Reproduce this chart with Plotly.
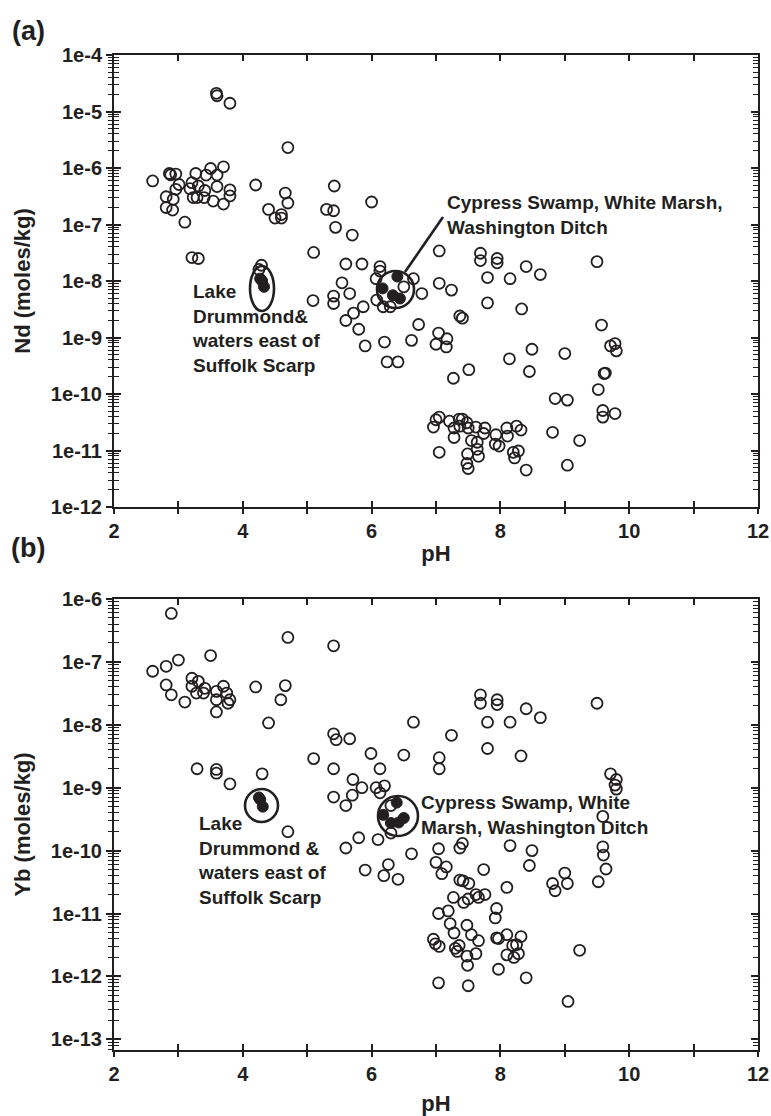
import plotly.graph_objects as go

# ---------------- data: panel (a) Nd ----------------
ph_a_open = [3.59, 3.60, 3.80, 4.70, 2.60, 2.86, 2.88, 2.96, 3.01, 2.96, 2.81, 2.92, 2.81, 2.91, 3.10,
             3.21, 3.27, 3.18, 3.31, 3.41, 3.23, 3.29, 3.40, 3.43, 3.50, 3.60, 3.60, 3.54, 3.70, 3.70,
             3.80, 3.80, 4.20, 4.40, 4.50, 4.60, 4.60, 4.66, 4.70, 3.21, 3.31, 5.10, 5.30, 5.41, 5.42,
             5.44, 5.70, 6.00, 5.60, 5.85, 6.13, 6.13, 6.07, 5.54, 5.66, 5.41, 5.41, 5.09, 5.87, 5.72,
             5.60, 5.80, 6.08, 6.18, 6.29, 6.50, 6.65, 6.78, 6.73, 5.90, 6.20, 6.24, 6.41, 6.62,
             7.05, 7.69, 7.69, 7.95, 7.95, 8.40, 8.62, 7.80, 8.15, 9.50, 7.05, 7.24, 7.80, 8.33, 7.37,
             7.41, 9.57, 7.04, 7.17, 7.00, 7.16, 8.14, 8.49, 8.45, 9.00, 9.78, 9.71, 9.80, 7.51, 7.27,
             9.61, 9.63, 9.52, 8.85, 9.04, 9.59, 9.59, 9.78, 8.81, 9.23, 9.04, 8.40,
             6.96, 7.00, 7.05, 7.21, 7.28, 7.28, 7.36, 7.41, 7.37, 7.48, 7.50, 7.62, 7.55, 7.64, 7.76,
             7.74, 7.93, 7.92, 7.98, 8.10, 8.11, 8.25, 8.32, 8.20, 8.28, 8.22, 7.05, 7.49, 7.64, 7.66,
             7.48, 7.50, 4.29, 4.25]
nd_open = [2.1e-5, 1.9e-5, 1.4e-5, 2.3e-6, 5.9e-7, 8.0e-7, 7.6e-7, 7.8e-7, 5.1e-7, 4.2e-7, 3.1e-7, 2.8e-7, 2.0e-7, 1.8e-7, 1.1e-7,
           5.5e-7, 8.0e-7, 4.3e-7, 4.8e-7, 4.0e-7, 3.0e-7, 3.0e-7, 3.0e-7, 7.5e-7, 9.8e-7, 7.5e-7, 4.7e-7, 2.6e-7, 1.05e-6, 2.3e-7,
           4.1e-7, 3.2e-7, 5.0e-7, 1.85e-7, 1.3e-7, 1.5e-7, 1.3e-7, 3.6e-7, 2.4e-7, 2.6e-8, 2.5e-8, 3.2e-8, 1.85e-7, 1.75e-7, 4.8e-7,
           8.9e-8, 6.5e-8, 2.5e-7, 2.0e-8, 2.0e-8, 1.8e-8, 1.5e-8, 1.1e-8, 9.3e-9, 6.0e-9, 5.4e-9, 4.0e-9, 4.5e-9, 3.5e-9, 2.7e-9,
           2.0e-9, 1.4e-9, 4.6e-9, 3.5e-9, 3.5e-9, 7.9e-9, 1.1e-8, 6.0e-9, 1.7e-9, 7.1e-10, 8.3e-10, 3.7e-10, 3.7e-10, 8.9e-10,
           3.4e-8, 3.1e-8, 2.3e-8, 2.5e-8, 2.1e-8, 1.8e-8, 1.3e-8, 1.15e-8, 1.1e-8, 2.2e-8, 9.1e-9, 6.9e-9, 4.1e-9, 3.2e-9, 2.4e-9,
           2.2e-9, 1.66e-9, 1.2e-9, 9.5e-10, 7.6e-10, 6.8e-10, 4.2e-10, 6.2e-10, 2.5e-10, 5.2e-10, 7.8e-10, 7.1e-10, 5.8e-10, 2.7e-10, 1.9e-10,
           2.3e-10, 2.35e-10, 1.2e-10, 8.3e-11, 7.8e-11, 5.1e-11, 3.9e-11, 4.5e-11, 2.1e-11, 1.5e-11, 5.5e-12, 4.5e-12,
           2.6e-11, 3.5e-11, 3.9e-11, 3.3e-11, 2.5e-11, 1.7e-11, 3.6e-11, 3.6e-11, 2.7e-11, 3.1e-11, 2.5e-11, 2.6e-11, 1.5e-11, 1.4e-11, 2.5e-11,
           2.0e-11, 1.9e-11, 1.3e-11, 1.2e-11, 2.5e-11, 1.8e-11, 2.7e-11, 2.3e-11, 9.3e-12, 9.8e-12, 7.4e-12, 9.3e-12, 8.7e-12, 1.05e-11, 7.9e-12,
           5.9e-12, 4.8e-12, 1.9e-8, 1.6e-8]
ph_a_filled = [4.27, 4.33, 4.30, 6.17, 6.40, 6.44, 6.33]
nd_filled = [1.1e-8, 7.9e-9, 1.0e-8, 7.4e-9, 1.2e-8, 4.9e-9, 5.6e-9]

# ---------------- data: panel (b) Yb ----------------
ph_b_open = [2.89, 4.70, 5.41, 2.60, 2.81, 3.00, 3.50, 2.81, 2.89, 3.10, 3.21, 3.31, 3.21, 3.41, 3.28,
             3.39, 3.59, 3.70, 3.75, 3.59, 3.80, 3.77, 3.59, 4.20, 4.66, 4.59, 4.40, 6.65, 5.41, 5.45,
             5.66, 5.99, 6.50, 5.10, 5.41, 6.13, 3.29, 3.59, 3.59, 3.80, 4.30, 5.71, 5.85, 6.07, 6.20,
             6.13, 5.41, 5.70, 5.60, 6.30, 4.70, 5.80, 5.60, 6.10, 6.30, 6.62, 5.90, 6.26, 6.19,
             6.41, 7.69, 7.69, 7.95, 7.95, 8.40, 8.62, 7.80, 8.15, 9.50, 7.24, 7.05, 7.05, 7.80, 8.32,
             9.71, 9.80, 9.80, 9.78, 9.59, 9.59, 9.60, 9.64, 7.04, 7.37, 7.41, 8.15, 8.49, 7.00, 7.16,
             7.09, 7.74, 8.45, 9.00, 8.81, 8.85, 9.04, 9.52, 7.37, 7.42, 7.51, 8.10, 7.27, 7.43, 7.50,
             7.62, 7.66, 7.76, 7.19, 7.04, 7.94, 7.92, 7.22, 7.28, 7.48, 7.55, 7.66, 6.96, 6.99, 7.05,
             7.30, 7.33, 7.36, 7.48, 7.49, 7.62, 7.94, 7.97, 8.10, 8.32, 8.19, 8.25, 8.10, 8.21, 8.28,
             7.97, 8.40, 9.23, 7.04, 7.50, 9.05]
yb_open = [5.9e-7, 2.45e-7, 1.8e-7, 7.1e-8, 8.5e-8, 1.07e-7, 1.26e-7, 4.3e-8, 3.0e-8, 2.3e-8, 5.5e-8, 4.9e-8, 4.1e-8, 3.8e-8, 3.2e-8,
           3.2e-8, 3.4e-8, 4.1e-8, 3.2e-8, 2.5e-8, 2.5e-8, 2.2e-8, 1.6e-8, 4.0e-8, 4.2e-8, 2.5e-8, 1.07e-8, 1.1e-8, 7.2e-9, 5.8e-9,
           6.0e-9, 3.5e-9, 3.3e-9, 2.9e-9, 2.0e-9, 2.0e-9, 2.0e-9, 1.95e-9, 1.7e-9, 1.15e-9, 1.66e-9, 1.35e-9, 1.0e-9, 1.0e-9, 1.07e-9,
           8.3e-10, 7.1e-10, 7.6e-10, 5.2e-10, 5.2e-10, 2.0e-10, 1.6e-10, 1.1e-10, 1.5e-10, 1.9e-10, 8.9e-11, 4.9e-11, 6.0e-11, 4.0e-11,
           3.5e-11, 3.0e-8, 2.2e-8, 2.5e-8, 2.1e-8, 1.8e-8, 1.3e-8, 1.1e-8, 1.1e-8, 2.2e-8, 6.8e-9, 3.0e-9, 2.0e-9, 4.2e-9, 3.2e-9,
           1.66e-9, 1.35e-9, 9.5e-10, 1.1e-9, 3.5e-10, 1.15e-10, 8.5e-11, 5.1e-11, 1.07e-10, 1.1e-10, 1.3e-10, 1.2e-10, 1.0e-10, 6.5e-11, 5.5e-11,
           4.3e-11, 5.0e-11, 5.8e-11, 4.4e-11, 3.0e-11, 2.3e-11, 3.0e-11, 3.2e-11, 3.4e-11, 3.3e-11, 3.0e-11, 2.6e-11, 1.8e-11, 1.5e-11, 1.7e-11,
           2.0e-11, 1.8e-11, 2.0e-11, 1.1e-11, 1.0e-11, 1.2e-11, 8.5e-12, 6.9e-12, 4.9e-12, 6.5e-12, 4.6e-12, 3.7e-12, 3.9e-12, 3.3e-12, 3.0e-12,
           2.8e-12, 2.5e-12, 3.1e-12, 2.1e-12, 1.5e-12, 2.3e-12, 4.1e-12, 4.0e-12, 4.6e-12, 4.3e-12, 3.1e-12, 3.2e-12, 2.2e-12, 2.0e-12, 2.3e-12,
           1.3e-12, 9.5e-13, 2.6e-12, 7.9e-13, 7.1e-13, 4.0e-13]
ph_b_filled = [4.27, 4.31, 4.25, 6.39, 6.18, 6.50, 6.30, 6.42]
yb_filled = [6.5e-10, 5.0e-10, 7.0e-10, 5.8e-10, 3.7e-10, 3.3e-10, 2.75e-10, 2.8e-10]

# ---------------- axis settings ----------------
x_range = [2, 12]
ya_range_log = [-12, -4]
yb_range_log = [-13.17, -6]
ya_ticks = [10.0 ** e for e in range(-12, -3)]
ya_text = ["1e%d" % e for e in range(-12, -3)]
yb_ticks = [10.0 ** e for e in range(-13, -5)]
yb_text = ["1e%d" % e for e in range(-13, -5)]
y_minor = [k * 10.0 ** e for e in range(-14, -4) for k in range(2, 10)]

FONT = "Liberation Sans, Arial, Helvetica, sans-serif"
INK = "#231f20"
W, H = 771, 1116
L, R, T, B = 114, 13, 55, 66
PW, PH = W - L - R, H - T - B


def px(xp):
    return (xp - L) / PW


def py(yp):
    return (H - B - yp) / PH


dom_a = [py(507), 1.0]
dom_b = [0.0, py(599)]

fig = go.Figure()
mk_open = dict(symbol="circle-open", size=11, color=INK, line=dict(width=1.8, color=INK))
mk_fill = dict(symbol="circle", size=11, color=INK, line=dict(width=1, color=INK))

fig.add_trace(go.Scatter(x=ph_a_open, y=nd_open, mode="markers", marker=mk_open, xaxis="x", yaxis="y", showlegend=False))
fig.add_trace(go.Scatter(x=ph_a_filled, y=nd_filled, mode="markers", marker=mk_fill, xaxis="x", yaxis="y", showlegend=False))
fig.add_trace(go.Scatter(x=ph_b_open, y=yb_open, mode="markers", marker=mk_open, xaxis="x2", yaxis="y2", showlegend=False))
fig.add_trace(go.Scatter(x=ph_b_filled, y=yb_filled, mode="markers", marker=mk_fill, xaxis="x2", yaxis="y2", showlegend=False))
# empty traces so the overlay (outer-tick) axes are instantiated
fig.add_trace(go.Scatter(x=[], y=[], xaxis="x3", yaxis="y3", showlegend=False))
fig.add_trace(go.Scatter(x=[], y=[], xaxis="x4", yaxis="y4", showlegend=False))

tickfont = dict(family=FONT, size=20, color=INK, weight="bold")
titlefont = dict(family=FONT, size=22, color=INK, weight="bold")


def x_inner(anchor):
    return dict(range=x_range, anchor=anchor, showline=True, linewidth=1.6, linecolor=INK, mirror="ticks",
                ticks="inside", ticklen=6, tickwidth=1.5, tickcolor=INK, tick0=2, dtick=2,
                minor=dict(dtick=1, tick0=2, ticks="inside", ticklen=6, tickwidth=1.5, tickcolor=INK),
                showticklabels=False, showgrid=False, zeroline=False, automargin=False)


def x_outer(base, anchor, standoff):
    return dict(range=x_range, overlaying=base, anchor=anchor, side="bottom", showline=False,
                ticks="outside", ticklen=6, tickwidth=1.5, tickcolor=INK, tick0=2, dtick=2,
                minor=dict(dtick=1, tick0=2, ticks="outside", ticklen=6, tickwidth=1.5, tickcolor=INK),
                tickfont=tickfont, showgrid=False, zeroline=False, automargin=False,
                title=dict(text="pH", font=titlefont, standoff=standoff))


def y_inner(anchor, dom, rng, tv):
    return dict(type="log", range=rng, domain=dom, anchor=anchor, showline=True, linewidth=1.6, linecolor=INK,
                mirror="ticks", ticks="inside", ticklen=7, tickwidth=1.5, tickcolor=INK,
                tickmode="array", tickvals=tv, showticklabels=False,
                minor=dict(tickmode="array", tickvals=y_minor, ticks="inside", ticklen=5,
                           tickwidth=1.2, tickcolor=INK),
                showgrid=False, zeroline=False, automargin=False)


def y_outer(base, anchor, rng, tv, tt, title):
    return dict(type="log", range=rng, overlaying=base, anchor=anchor, side="left", showline=False,
                ticks="outside", ticklen=7, tickwidth=1.5, tickcolor=INK,
                tickmode="array", tickvals=tv, ticktext=tt, tickfont=tickfont,
                minor=dict(tickmode="array", tickvals=y_minor, ticks="outside", ticklen=5,
                           tickwidth=1.2, tickcolor=INK),
                showgrid=False, zeroline=False, automargin=False,
                title=dict(text=title, font=titlefont, standoff=14))


fig.update_layout(
    width=W, height=H,
    margin=dict(l=L, r=R, t=T, b=B, autoexpand=False),
    paper_bgcolor="white", plot_bgcolor="white",
    font=dict(family=FONT, color=INK),
    xaxis=x_inner("y"),
    yaxis=y_inner("x", dom_a, ya_range_log, ya_ticks),
    xaxis2=x_inner("y2"),
    yaxis2=y_inner("x2", dom_b, yb_range_log, yb_ticks),
    xaxis3=x_outer("x", "y", 4),
    yaxis3=y_outer("y", "x", ya_range_log, ya_ticks, ya_text, "Nd (moles/kg)"),
    xaxis4=x_outer("x2", "y2", 12),
    yaxis4=y_outer("y2", "x2", yb_range_log, yb_ticks, yb_text, "Yb (moles/kg)"),
)

annfont = dict(family=FONT, size=19, color=INK, weight="bold")
anns = [
    dict(text="(a)", x=px(28), y=py(31), xanchor="center", yanchor="middle",
         font=dict(family=FONT, size=27, color=INK, weight="bold")),
    dict(text="(b)", x=px(28), y=py(548), xanchor="center", yanchor="middle",
         font=dict(family=FONT, size=27, color=INK, weight="bold")),
    dict(text="Lake<br>Drummond&<br>waters east of<br>Suffolk Scarp", x=px(190), y=py(329),
         xanchor="left", yanchor="middle", align="left", font=annfont),
    dict(text="Cypress Swamp, White Marsh,<br>Washington Ditch", x=px(445), y=py(215),
         xanchor="left", yanchor="middle", align="left", font=annfont),
    dict(text="Lake<br>Drummond &<br>waters east of<br>Suffolk Scarp", x=px(196), y=py(860),
         xanchor="left", yanchor="middle", align="left", font=annfont),
    dict(text="Cypress Swamp, White<br>Marsh, Washington Ditch", x=px(419), y=py(815),
         xanchor="left", yanchor="middle", align="left", font=annfont),
]
for a in anns:
    a.update(xref="paper", yref="paper", showarrow=False)
fig.update_layout(annotations=anns)

ring = dict(color=INK, width=2.6)
shapes = [
    # Lake Drummond group (a)
    dict(type="circle", x0=px(250), x1=px(274), y0=py(266), y1=py(311)),
    # Cypress Swamp group (a) and its leader line
    dict(type="circle", x0=px(377), x1=px(414), y0=py(271), y1=py(308)),
    dict(type="line", x0=px(405), y0=py(272), x1=px(443), y1=py(217)),
    # Lake Drummond group (b)
    dict(type="circle", x0=px(245), x1=px(278), y0=py(789), y1=py(822)),
    # Cypress Swamp group (b)
    dict(type="circle", x0=px(378), x1=px(418), y0=py(796), y1=py(836)),
]
for s in shapes:
    s.update(xref="paper", yref="paper", line=ring)
fig.update_layout(shapes=shapes)

fig.write_html("out.html")
